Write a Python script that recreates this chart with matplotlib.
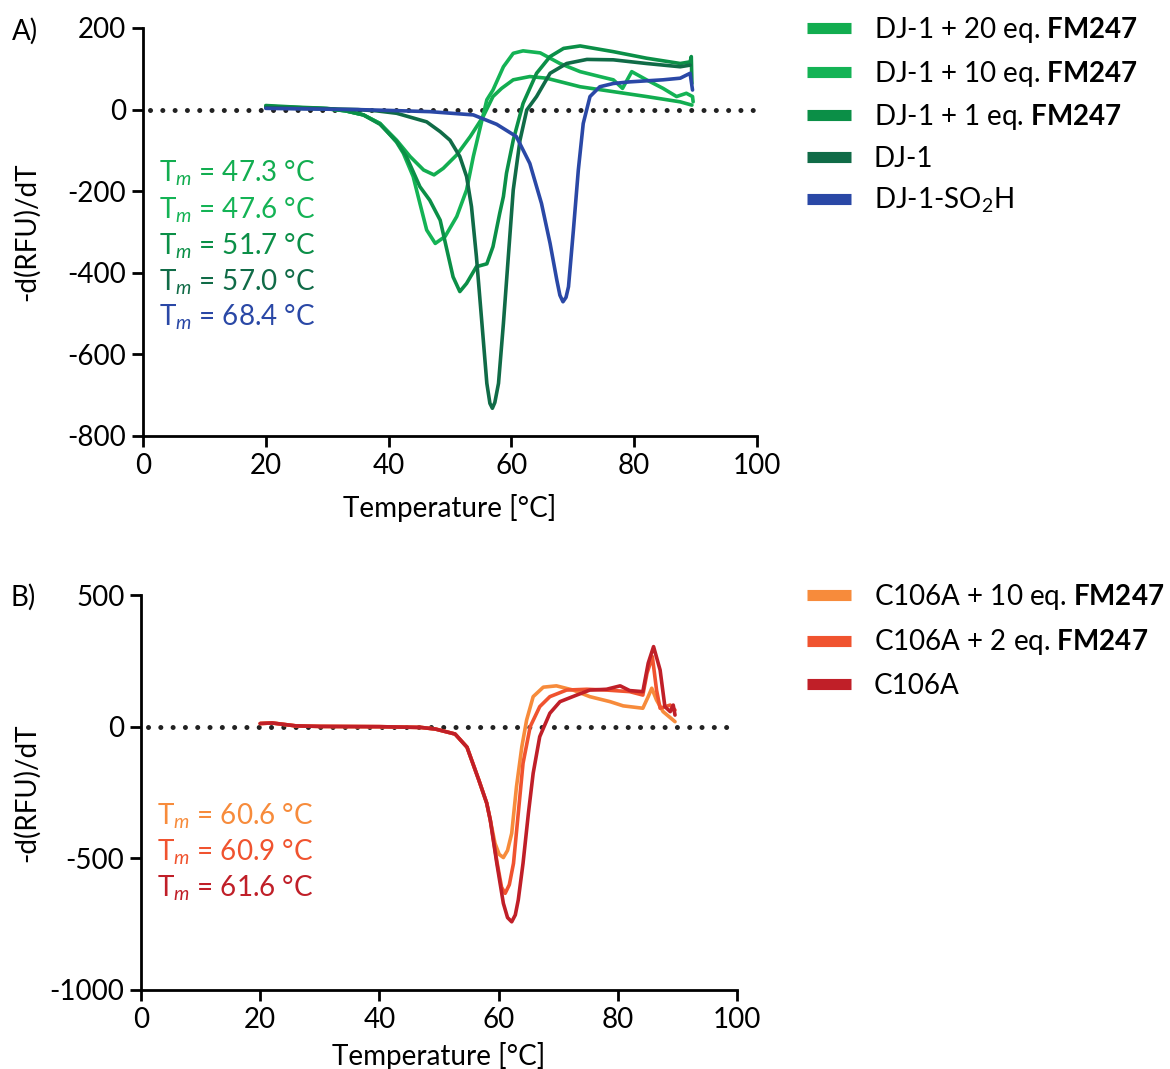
import matplotlib
matplotlib.use("Agg")
import matplotlib.pyplot as plt

FONT = "Lato"
plt.rcParams['font.family'] = [FONT, 'DejaVu Sans']
plt.rcParams['mathtext.fontset'] = 'custom'
plt.rcParams['mathtext.rm'] = FONT
plt.rcParams['mathtext.it'] = FONT + ':italic'
plt.rcParams['mathtext.bf'] = FONT + ':bold'
plt.rcParams['axes.unicode_minus'] = False

# ---------------- Panel A data ----------------
a_labels = ["DJ-1 + 20 eq. $\\mathbf{FM247}$", "DJ-1 + 10 eq. $\\mathbf{FM247}$",
            "DJ-1 + 1 eq. $\\mathbf{FM247}$", "DJ-1", "DJ-1-SO$_2$H"]
a_colors = ["#12ad50", "#14b355", "#0b8f47", "#106b47", "#2a48a6"]
a_tm = ["47.3", "47.6", "51.7", "57.0", "68.4"]

eq20_x = [20, 25, 30, 33, 35.9, 38.6, 41.3, 43.5, 45.7, 47.4, 48.9, 51.1, 53.3, 55.4, 57, 58.4, 60.3, 63, 65.7, 71.2, 76.6, 82, 87.5, 89.4]
eq20_y = [8, 5, 2, -3, -13, -34, -75, -115, -148, -160, -144, -111, -66, -17, 32, 52, 73, 81, 77, 56, 44, 32, 19, 11]

eq10_x = [20, 25, 30, 33, 35.9, 38.6, 41.3, 42.4, 44, 45.1, 46.2, 47.6, 49.2, 51.1, 52.7, 53.8, 54.9, 56, 57, 58.7, 60.3, 61.9, 64.7, 67.9, 71.2, 74.4, 76.6, 78.1, 79.6, 82, 84.7, 86.9, 88.5, 89.5, 89.6]
eq10_y = [8, 5, 2, -3, -13, -34, -80, -107, -164, -230, -295, -328, -311, -262, -197, -115, -45, 24, 48, 105, 138, 144, 139, 113, 93, 81, 73, 52, 93, 73, 52, 32, 40, 32, 19]

eq1_x = [20, 25, 30, 33, 35.9, 38.6, 41.3, 42.9, 45.1, 46.7, 48.4, 49.5, 50.5, 51.6, 52.7, 54.3, 56, 57, 58.1, 58.7, 59.2, 60.3, 61.9, 64.1, 66.3, 68.5, 71.2, 76.6, 82, 87.5, 89.1, 89.3, 89.4]
eq1_y = [10, 6, 3, -3, -13, -36, -78, -115, -189, -222, -271, -344, -410, -446, -426, -385, -378, -336, -254, -213, -156, -75, 15, 89, 130, 150, 156, 142, 126, 113, 117, 130, 64]

dj1_x = [20, 25, 30, 35, 38, 41.3, 46.2, 48.4, 50, 51.6, 52.7, 53.5, 54.3, 55.2, 56, 56.5, 56.9, 57.3, 57.9, 58.7, 59.5, 60.3, 61.4, 62.5, 64.1, 66.3, 69, 72.3, 76.6, 82, 87.5, 89.1]
dj1_y = [5, 3, 2, 0, -3, -9, -30, -54, -75, -115, -164, -238, -360, -524, -671, -720, -732, -718, -671, -524, -360, -197, -75, -1, 32, 89, 113, 123, 122, 113, 105, 109]

so2h_x = [20, 25, 30, 35, 40, 46.7, 53.8, 57.6, 60.8, 63, 64.9, 66.3, 67.4, 67.9, 68.4, 68.9, 69.3, 70.1, 70.9, 71.7, 72.8, 74.4, 76.6, 79.3, 84.7, 87.5, 89.1, 89.5]
so2h_y = [3, 2, 1, 0, -2, -5, -13, -36, -66, -132, -230, -328, -418, -455, -471, -460, -434, -295, -148, -34, 32, 56, 64, 68, 73, 77, 89, 48]

a_series = [(eq20_x, eq20_y), (eq10_x, eq10_y), (eq1_x, eq1_y), (dj1_x, dj1_y), (so2h_x, so2h_y)]

# ---------------- Panel B data ----------------
b_labels = ["C106A + 10 eq. $\\mathbf{FM247}$", "C106A + 2 eq. $\\mathbf{FM247}$", "C106A"]
b_colors = ["#f78b3b", "#f0532f", "#c01f28"]
b_tm = ["60.6", "60.9", "61.6"]

c10_x = [20, 22, 26, 30, 40, 47, 49.4, 52.7, 54.7, 56.7, 58, 58.6, 59.4, 60.1, 60.8, 61.5, 62.2, 63, 63.9, 64.7, 65.8, 67.5, 69.7, 72.5, 75.3, 78.7, 80.9, 84.2, 85.1, 85.7, 86.5, 87.6, 89.6]
c10_y = [12, 14, 3, 1, 0, -3, -9, -28, -78, -204, -290, -354, -443, -485, -497, -470, -405, -228, -76, 25, 114, 150, 155, 139, 114, 95, 79, 70, 114, 146, 101, 57, 19]

c2_x = [20, 22, 26, 30, 40, 47, 49.4, 52.7, 54.7, 56.7, 58, 58.6, 59.7, 60.5, 61.1, 61.8, 62.5, 63.3, 64.1, 65.3, 66.9, 68.6, 71.4, 74.8, 78.1, 82, 84.2, 84.9, 85.8, 86.5, 87.1, 88.8, 89.6]
c2_y = [12, 14, 3, 1, 0, -3, -9, -28, -78, -204, -290, -354, -510, -610, -633, -600, -519, -329, -139, 0, 76, 114, 139, 142, 139, 133, 120, 203, 266, 139, 70, 82, 63]

c0_x = [20, 22, 26, 30, 40, 47, 49.4, 52.7, 54.7, 56.7, 58, 58.6, 59.7, 60.8, 61.5, 62.2, 62.8, 63.3, 64.1, 65, 65.8, 66.9, 68.6, 70.3, 73.1, 75.3, 78.1, 80.4, 82, 84.2, 85.1, 86, 87.1, 87.9, 88.8, 89.3, 89.6]
c0_y = [12, 14, 3, 1, 0, -3, -9, -28, -78, -204, -290, -354, -519, -671, -725, -741, -715, -658, -519, -329, -177, -38, 51, 95, 120, 139, 142, 155, 137, 133, 241, 304, 215, 76, 57, 82, 44]

b_series = [(c10_x, c10_y), (c2_x, c2_y), (c0_x, c0_y)]

x_ticks = [0, 20, 40, 60, 80, 100]
a_yticks = [200, 0, -200, -400, -600, -800]
b_yticks = [500, 0, -500, -1000]

W, H = 1170, 1069
fig = plt.figure(figsize=(W / 100, H / 100), dpi=100)

FS = 20

def style(ax, yticks):
    for s in ['top', 'right']:
        ax.spines[s].set_visible(False)
    for s in ['left', 'bottom']:
        ax.spines[s].set_linewidth(2)
    ax.tick_params(width=2, length=8, labelsize=FS, direction='out', pad=4)
    ax.set_xlim(0, 100)
    ax.set_ylim(min(yticks), max(yticks))
    ax.set_xticks(x_ticks)
    ax.set_yticks(yticks)
    ax.axhline(0, xmin=0.012, color='#222222', lw=3.6, ls=(0, (0.01, 2.45)),
               dash_capstyle='round', zorder=1)
    ax.set_xlabel("Temperature [°C]", fontsize=FS)
    ax.set_ylabel("-d(RFU)/dT", fontsize=FS)

def axrect(l, t, r, b):
    return [l / W, 1 - b / H, (r - l) / W, (b - t) / H]

axA = fig.add_axes(axrect(143, 28, 757, 436))
axB = fig.add_axes(axrect(141, 595, 737, 990))

for ax, series, labels, colors, yt in [(axA, a_series, a_labels, a_colors, a_yticks),
                                        (axB, b_series, b_labels, b_colors, b_yticks)]:
    style(ax, yt)
    for (xs, ys), lab, col in zip(series, labels, colors):
        ax.plot(xs, ys, color=col, lw=2.6, label=lab, zorder=3,
                solid_joinstyle='round', solid_capstyle='round')

axA.yaxis.set_label_coords(-0.168, 0.5)
axB.yaxis.set_label_coords(-0.169, 0.5)
axA.xaxis.labelpad = 11
axB.xaxis.labelpad = 7

# Tm annotations
for i, (tm, col) in enumerate(zip(a_tm, a_colors)):
    yy = [0.643, 0.554, 0.466, 0.378, 0.290][i]
    axA.text(0.026, yy, "T$_{\\mathit{m}}$ = " + tm + " °C", color=col, fontsize=FS,
             transform=axA.transAxes, va='center', ha='left')
for i, (tm, col) in enumerate(zip(b_tm, b_colors)):
    yy = [0.441, 0.349, 0.258][i]
    axB.text(0.027, yy, "T$_{\\mathit{m}}$ = " + tm + " °C", color=col, fontsize=FS,
             transform=axB.transAxes, va='center', ha='left')

legA = axA.legend(loc='upper left', bbox_to_anchor=(807 / W, 1 - 15 / H), bbox_transform=fig.transFigure,
                  frameon=False, fontsize=FS, handlelength=1.6, handletextpad=0.8, labelspacing=0.49,
                  borderaxespad=0, borderpad=0)
legB = axB.legend(loc='upper left', bbox_to_anchor=(807 / W, 1 - 582 / H), bbox_transform=fig.transFigure,
                  frameon=False, fontsize=FS, handlelength=1.6, handletextpad=0.8, labelspacing=0.55,
                  borderaxespad=0, borderpad=0)
for leg in (legA, legB):
    for ln in leg.get_lines():
        ln.set_linewidth(8)
        ln.set_solid_capstyle('butt')

fig.text(12 / W, 1 - 31 / H, "A)", fontsize=FS, va='center', ha='left')
fig.text(10 / W, 1 - 597 / H, "B)", fontsize=FS, va='center', ha='left')

fig.savefig("out.png", dpi=100)
